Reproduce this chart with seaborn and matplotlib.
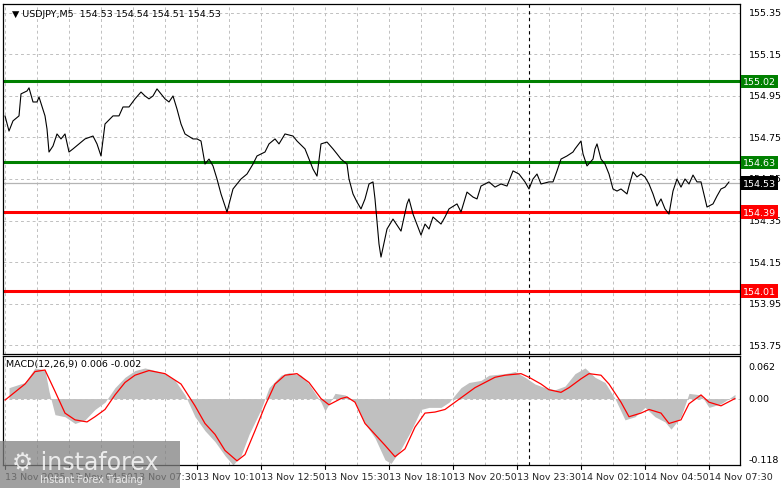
"""USDJPY M5 chart with support/resistance levels and MACD panel."""
import matplotlib
matplotlib.use("Agg")
import matplotlib.pyplot as plt
import matplotlib.patches as mpatches
import pandas as pd
import seaborn as sns

# --- price: (bar index, close) ---
price_pts = [
    (0, 154.854), (2, 154.781), (4, 154.830), (7, 154.854), (8, 154.960), (11, 154.974),
    (12, 154.989), (14, 154.921), (16, 154.921), (17, 154.945), (20, 154.854), (21, 154.791),
    (22, 154.680), (24, 154.709), (26, 154.767), (28, 154.743), (30, 154.767), (32, 154.680),
    (34, 154.695), (37, 154.719), (40, 154.743), (44, 154.757), (46, 154.719), (48, 154.661),
    (50, 154.815), (54, 154.854), (57, 154.854), (59, 154.897), (62, 154.897), (65, 154.936),
    (68, 154.969), (70, 154.950), (72, 154.936), (74, 154.950), (76, 154.984), (78, 154.960),
    (80, 154.936), (82, 154.921), (84, 154.950), (86, 154.887), (88, 154.815), (90, 154.767),
    (94, 154.743), (96, 154.743), (98, 154.733), (100, 154.622), (102, 154.646), (104, 154.613),
    (106, 154.550), (108, 154.478), (111, 154.391), (114, 154.502), (116, 154.526), (118, 154.550),
    (121, 154.574), (124, 154.622), (126, 154.661), (130, 154.680), (132, 154.719), (135, 154.743),
    (137, 154.719), (140, 154.767), (144, 154.757), (146, 154.733), (150, 154.695), (152, 154.646),
    (154, 154.598), (156, 154.564), (158, 154.719), (161, 154.728), (164, 154.695), (166, 154.671),
    (168, 154.646), (171, 154.622), (172, 154.550), (174, 154.478), (176, 154.439), (178, 154.406),
    (180, 154.454), (182, 154.526), (184, 154.536), (185, 154.454), (187, 154.237), (188, 154.174),
    (191, 154.309), (194, 154.357), (198, 154.299), (201, 154.430), (202, 154.454), (204, 154.381),
    (208, 154.280), (210, 154.333), (212, 154.309), (214, 154.367), (218, 154.333), (220, 154.367),
    (222, 154.406), (226, 154.430), (228, 154.391), (231, 154.487), (234, 154.463), (236, 154.454),
    (238, 154.516), (242, 154.536), (245, 154.511), (248, 154.526), (251, 154.516), (254, 154.589),
    (257, 154.574), (260, 154.536), (262, 154.502), (264, 154.550), (266, 154.574), (268, 154.526),
    (272, 154.536), (274, 154.536), (276, 154.589), (278, 154.646), (281, 154.661), (284, 154.680),
    (285, 154.695), (288, 154.733), (289, 154.671), (291, 154.613), (294, 154.646), (295, 154.695),
    (296, 154.719), (298, 154.646), (300, 154.622), (302, 154.574), (304, 154.502), (306, 154.492),
    (308, 154.502), (311, 154.478), (312, 154.516), (314, 154.584), (316, 154.560), (318, 154.574),
    (320, 154.560), (322, 154.526), (324, 154.478), (326, 154.420), (328, 154.454), (330, 154.406),
    (332, 154.381), (334, 154.492), (336, 154.550), (338, 154.511), (340, 154.550), (342, 154.526),
    (344, 154.569), (346, 154.536), (348, 154.536), (350, 154.454), (351, 154.415), (354, 154.430),
    (356, 154.468), (358, 154.502), (360, 154.511), (362, 154.536),
]

# --- MACD histogram: (bar, value) ---
hist_pts = [
    (2, 0.021), (10, 0.031), (15, 0.059), (20, 0.055), (22, 0.014), (25, -0.031), (30, -0.035),
    (35, -0.048), (40, -0.041), (45, -0.021), (50, -0.007), (55, 0.021), (60, 0.041), (65, 0.054),
    (70, 0.059), (75, 0.054), (80, 0.048), (85, 0.035), (90, 0.007), (95, -0.035), (100, -0.062),
    (105, -0.083), (110, -0.110), (114, -0.128), (118, -0.110), (122, -0.069), (128, -0.021),
    (132, 0.021), (138, 0.045), (142, 0.050), (148, 0.045), (152, 0.028), (158, -0.007),
    (160, -0.024), (165, 0.010), (170, 0.007), (175, -0.007), (180, -0.048), (185, -0.076),
    (190, -0.118), (193, -0.125), (198, -0.097), (203, -0.062), (208, -0.021), (212, -0.017),
    (218, -0.017), (222, -0.007), (228, 0.021), (232, 0.031), (238, 0.035), (242, 0.045),
    (250, 0.048), (255, 0.052), (260, 0.041), (265, 0.028), (270, 0.021), (275, 0.017),
    (280, 0.024), (285, 0.048), (290, 0.059), (295, 0.041), (300, 0.031), (305, 0.000),
    (310, -0.041), (315, -0.035), (320, -0.017), (325, -0.035), (330, -0.045), (333, -0.059),
    (338, -0.035), (342, 0.010), (348, 0.007), (352, -0.017), (358, -0.010), (362, 0.000),
    (365, 0.008),
]

# --- MACD signal line: (bar, value) ---
signal_pts = [
    (0, -0.003), (10, 0.028), (15, 0.052), (20, 0.055), (25, 0.014), (30, -0.028), (35, -0.041),
    (41, -0.045), (45, -0.035), (50, -0.021), (55, 0.007), (60, 0.031), (65, 0.045), (72, 0.054),
    (80, 0.048), (88, 0.028), (95, -0.014), (100, -0.048), (105, -0.069), (110, -0.100),
    (116, -0.120), (120, -0.108), (125, -0.062), (130, -0.014), (135, 0.028), (140, 0.045),
    (146, 0.048), (152, 0.031), (158, 0.000), (162, -0.012), (168, 0.000), (171, 0.003),
    (175, -0.007), (180, -0.048), (185, -0.069), (190, -0.090), (195, -0.112), (200, -0.097),
    (205, -0.055), (210, -0.028), (215, -0.026), (220, -0.021), (225, -0.007), (230, 0.007),
    (235, 0.021), (240, 0.031), (245, 0.041), (250, 0.045), (258, 0.048), (262, 0.041),
    (268, 0.028), (272, 0.017), (278, 0.012), (282, 0.021), (288, 0.038), (292, 0.048),
    (298, 0.045), (302, 0.028), (308, -0.007), (312, -0.035), (318, -0.028), (322, -0.021),
    (328, -0.028), (332, -0.048), (338, -0.041), (342, -0.010), (348, 0.007), (352, -0.007),
    (358, -0.014), (365, 0.000),
]

# --- levels and labels ---
resist_levels = [155.02, 154.63]
support_levels = [154.39, 154.01]
last_price = 154.53
price_ticks = [155.35, 155.15, 154.95, 154.75, 154.55, 154.35, 154.15, 153.95, 153.75]
time_tick_bar = [0, 32, 64, 96, 128, 160, 192, 224, 256, 288, 320, 352]
time_tick_label = ["13 Nov 2025", "13 Nov 04:50", "13 Nov 07:30", "13 Nov 10:10",
                   "13 Nov 12:50", "13 Nov 15:30", "13 Nov 18:10", "13 Nov 20:50",
                   "13 Nov 23:30", "14 Nov 02:10", "14 Nov 04:50", "14 Nov 07:30"]
session_bar = 262
title = "USDJPY,M5  154.53 154.54 154.51 154.53"
macd_title = "MACD(12,26,9) 0.006 -0.002"

sns.set_style("white")
plt.rcParams["font.family"] = ["DejaVu Sans"]
FS = 6.8
W, H = 781, 489
fig = plt.figure(figsize=(W / 100, H / 100), dpi=100)


def box(l, t, r, b):
    return [l / W, 1 - b / H, (r - l) / W, (b - t) / H]


ax = fig.add_axes(box(3, 5, 740, 355))
axm = fig.add_axes(box(3, 357, 740, 466), sharex=ax)
XMIN, XMAX = -1, 367.5

for a in (ax, axm):
    for s in a.spines.values():
        s.set_color("black")
        s.set_linewidth(0.9)
    a.tick_params(length=0, labelleft=False, labelbottom=False)
    for b in range(0, 368, 16):
        a.axvline(b, color="#c0c0c0", lw=0.7, ls=(0, (3, 3)), zorder=0)
    a.axvline(session_bar, color="black", lw=0.8, ls=(0, (3, 3)), zorder=1)

# main panel
for p in price_ticks:
    ax.axhline(p, color="#c0c0c0", lw=0.7, ls=(0, (3, 3)), zorder=0)
ax.axhline(last_price, color="#b4b4b4", lw=0.9, zorder=1)
for lv in resist_levels:
    ax.axhline(lv, color="#008000", lw=2.2, zorder=2)
for lv in support_levels:
    ax.axhline(lv, color="#ff0000", lw=2.2, zorder=2)
df = pd.DataFrame(price_pts, columns=["bar", "price"])
sns.lineplot(data=df, x="bar", y="price", ax=ax, color="black", lw=0.8, zorder=3)
ax.set_xlim(XMIN, XMAX)
ax.set_ylim(153.707, 155.393)
ax.set_xlabel("")
ax.set_ylabel("")

for p in price_ticks:
    ax.text(1.012, p, f"{p:.2f}", transform=ax.get_yaxis_transform(), va="center",
            ha="left", fontsize=FS, color="black")
for lv, fc in [(155.02, "#008000"), (154.63, "#008000"), (last_price, "black"),
               (154.39, "#ff0000"), (154.01, "#ff0000")]:
    ax.text(1.004, lv, f"{lv:.2f}", transform=ax.get_yaxis_transform(), va="center",
            ha="left", fontsize=FS, color="white", zorder=5,
            bbox=dict(boxstyle="square,pad=0.25", fc=fc, ec="none"))
ax.text(0.012, 0.985, "▼ " + title, transform=ax.transAxes, va="top", ha="left",
        fontsize=FS, color="black")

# MACD panel
hdf = pd.DataFrame(hist_pts, columns=["bar", "macd"])
axm.axhline(0, color="#c0c0c0", lw=0.7, ls=(0, (3, 3)), zorder=0)
axm.fill_between(hdf["bar"], hdf["macd"], 0, color="#c0c0c0", lw=0, zorder=2)
sdf = pd.DataFrame(signal_pts, columns=["bar", "signal"])
sns.lineplot(data=sdf, x="bar", y="signal", ax=axm, color="#ff0000", lw=0.9, zorder=3)
axm.set_ylim(-0.128, 0.082)
axm.set_xlabel("")
axm.set_ylabel("")
for v, t in [(0.062, "0.062"), (0.0, "0.00"), (-0.118, "-0.118")]:
    axm.text(1.012, v, t, transform=axm.get_yaxis_transform(), va="center", ha="left",
             fontsize=FS, color="black")
axm.text(0.004, 0.97, macd_title, transform=axm.transAxes, va="top", ha="left",
         fontsize=FS, color="black")

# time axis
for b, lab in zip(time_tick_bar, time_tick_label):
    xf = (3 + (b - XMIN) / (XMAX - XMIN) * 737) / W
    fig.text(xf, 1 - 478 / H, lab, fontsize=FS, ha="left", va="center")
    fig.lines.append(plt.Line2D([xf, xf], [1 - 466 / H, 1 - 470 / H], color="black",
                                lw=0.8, transform=fig.transFigure))

# watermark
fig.patches.append(mpatches.Rectangle((0, 0), 180 / W, 47 / H, transform=fig.transFigure,
                                      fc="#808080", alpha=0.75, ec="none", zorder=10))
fig.text(12 / W, 1 - 462 / H, "⚙ instaforex", fontsize=17, color="white", alpha=0.8,
         va="center", ha="left", zorder=11)
fig.text(40 / W, 1 - 480 / H, "Instant Forex Trading", fontsize=7, color="white",
         alpha=0.8, va="center", ha="left", zorder=11)

fig.savefig("out.png", dpi=100, facecolor="white")
